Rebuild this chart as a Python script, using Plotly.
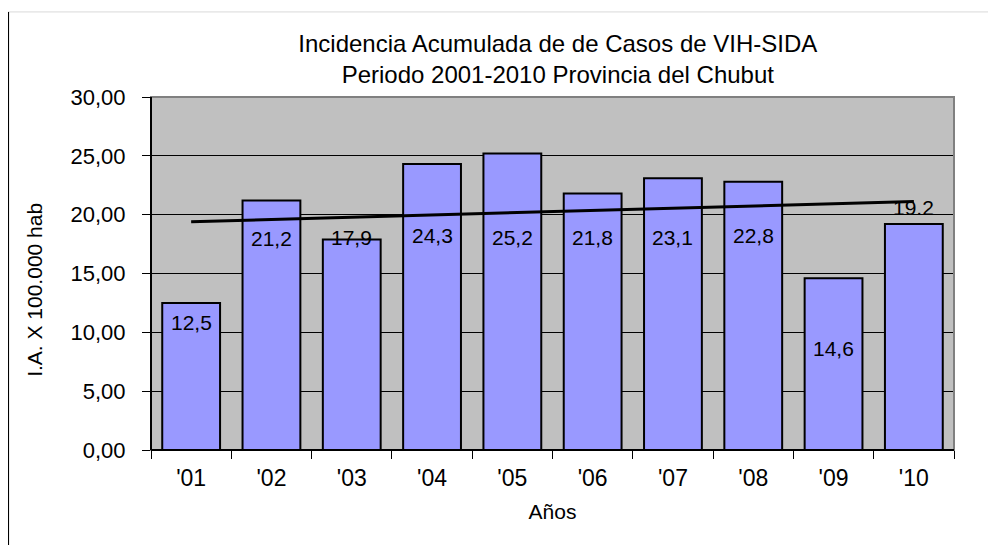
import numpy as np
import plotly.graph_objects as go

years = ["'01", "'02", "'03", "'04", "'05", "'06", "'07", "'08", "'09", "'10"]
incidence = [12.5, 21.2, 17.9, 24.3, 25.2, 21.8, 23.1, 22.8, 14.6, 19.2]
bar_labels = ["12,5", "21,2", "17,9", "24,3", "25,2", "21,8", "23,1", "22,8", "14,6", "19.2"]
# where each value label sits (data units), as placed in the original
label_y = [10.8, 18.0, 18.1, 18.2, 18.1, 18.1, 18.1, 18.2, 8.6, 20.65]

# linear trend over the ten years
xs = np.arange(1, len(incidence) + 1)
slope, intercept = np.polyfit(xs, incidence, 1)
trend = slope * xs + intercept

font = "Liberation Sans, Arial, sans-serif"

fig = go.Figure()
fig.add_bar(x=years, y=incidence, marker=dict(color="#9999FF", line=dict(color="black", width=2)),
            showlegend=False, hoverinfo="y")
fig.add_scatter(x=years, y=trend, mode="lines", line=dict(color="black", width=3),
                showlegend=False, hoverinfo="skip")

for yr, txt, ly in zip(years, bar_labels, label_y):
    fig.add_annotation(x=yr, y=ly, text=txt, showarrow=False,
                       font=dict(family=font, size=21, color="black"))

# y-axis title placed as an annotation
fig.add_annotation(xref="paper", yref="paper", x=-0.146, y=0.453, xanchor="center", yanchor="middle",
                   text="I.A. X 100.000 hab", textangle=-90, showarrow=False,
                   font=dict(family=font, size=21, color="black"))

# plot frame: grey top/right, black left/bottom
fig.add_shape(type="rect", xref="paper", yref="paper", x0=0, y0=0, x1=1, y1=1,
              line=dict(color="#808080", width=2), layer="above")
fig.add_shape(type="line", xref="paper", yref="paper", x0=0, y0=0, x1=0, y1=1,
              line=dict(color="black", width=2), layer="above")
fig.add_shape(type="line", xref="paper", yref="paper", x0=0, y0=0, x1=1, y1=0,
              line=dict(color="black", width=2), layer="above")

# outer chart border lines
fig.add_shape(type="line", xref="paper", yref="paper", x0=-0.178, y0=1.241, x1=1.07, y1=1.241,
              line=dict(color="#d9d9d9", width=1))
fig.add_shape(type="line", xref="paper", yref="paper", x0=-0.178, y0=1.241, x1=-0.178, y1=-0.3,
              line=dict(color="black", width=2))

fig.update_layout(
    width=996, height=545,
    margin=dict(l=143, r=50, t=89, b=103),
    paper_bgcolor="white", plot_bgcolor="#C0C0C0",
    bargap=0.28,
    separators=",.",
    font=dict(family=font, color="black"),
    title=dict(text="Incidencia Acumulada de de Casos de VIH-SIDA<br>Periodo 2001-2010 Provincia del Chubut",
               x=0.552, xanchor="center", y=0.92, yanchor="middle",
               font=dict(family=font, size=24, color="black")),
    xaxis=dict(title=dict(text="Años", font=dict(family=font, size=21), standoff=14),
               tickfont=dict(family=font, size=23), ticks="outside", tickson="boundaries",
               ticklen=8, tickcolor="black", tickwidth=1, showgrid=False, ticklabelstandoff=12),
    yaxis=dict(range=[0, 30], dtick=5, tickformat=".2f", tickfont=dict(family=font, size=22),
               ticks="outside", ticklen=8, tickcolor="black", tickwidth=1, ticklabelstandoff=12,
               showgrid=True, gridcolor="black", gridwidth=1, zeroline=False),
)

fig.write_html("out.html")
